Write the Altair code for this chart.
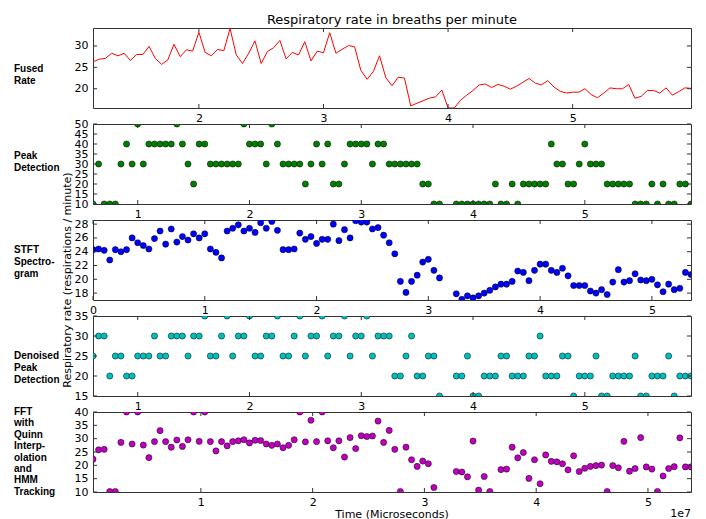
import altair as alt
import pandas as pd

W = 598
H = 80
STEP = 0.05  # sample spacing, units of 1e7 microseconds

# ---------------- data ----------------
fused_t0 = 1.15
fused = [26.3, 26.9, 27.1, 28.3, 27.7, 28.3, 26.6, 28.0, 28.0, 29.9,
         27.1, 25.7, 26.7, 30.4, 27.5, 29.1, 28.8, 33.2, 28.5, 27.7,
         29.2, 28.9, 34.1, 27.9, 25.9, 28.3, 31.2, 25.9, 28.7, 29.6,
         31.3, 27.0, 28.5, 27.9, 31.0, 26.5, 28.8, 28.4, 33.1, 28.3,
         29.2, 30.1, 29.8, 24.3, 22.2, 24.0, 27.7, 22.6, 20.7, 22.7,
         22.5, 16.0, 16.6, 17.2, 17.8, 18.1, 19.7, 15.5, 15.5, 17.3,
         18.5, 19.6, 20.9, 21.1, 20.3, 21.0, 20.6, 19.9, 20.6, 21.5,
         22.4, 21.3, 20.9, 21.9, 20.4, 19.4, 19.0, 19.2, 19.2, 20.0,
         18.6, 17.9, 19.0, 20.2, 20.0, 20.0, 21.0, 17.8, 18.2, 19.6,
         19.6, 19.0, 20.2, 18.5, 19.3, 20.2, 20.1]

peak_t0 = 0.60
peak = [10, 30, 10, 10, 10, 30, 40, 30, 50, 30,
        40, 40, 40, 40, 40, 50, 40, 30, 20, 40,
        40, 30, 30, 30, 30, 30, 30, 50, 40, 40,
        40, 30, 50, 40, 30, 30, 30, 30, 20, 30,
        40, 30, 40, 20, 20, 30, 40, 40, 40, 40,
        30, 40, 40, 30, 30, 30, 30, 30, 30, 20,
        20, 10, 10, None, None, 10, 10, 10, 10, 10,
        10, 10, 20, 10, 10, 20, 10, 20, 20, 20,
        20, 20, 40, 30, 30, 20, 20, 30, 40, 30,
        30, 30, 20, 20, 20, 20, 20, 10, 10, 10,
        20, 10, 20, 10, 10, 20, 20, 10]

stft_t0 = 0.0
stft = [24.3, 24.4, 24.2, 22.8, 24.3, 24.0, 24.3, 26.0, 25.3, 24.9,
        24.4, 25.9, 27.0, 25.1, 27.3, 25.4, 26.2, 25.7, 26.6, 26.0,
        26.6, 24.4, 23.9, 23.1, 27.0, 27.4, 27.9, 27.0, 27.4, 26.8,
        28.2, 27.4, 28.4, 27.1, 24.3, 24.3, 24.4, 26.7, 25.8, 26.2,
        25.2, 25.8, 25.8, 28.0, 25.6, 27.2, 26.0, 28.5, 28.3, 28.3,
        27.3, 27.5, 26.4, 25.3, 23.7, 19.7, 18.1, 19.7, 20.6, 22.5,
        22.9, 21.3, 20.2, None, None, 17.9, 17.1, 17.6, 17.3, 17.6,
        18.0, 18.4, 18.9, 19.3, 19.3, 19.7, 21.2, 21.0, 19.8, 21.3,
        22.2, 22.2, 21.3, 21.0, 21.6, 20.5, 19.1, 19.1, 19.1, 18.3,
        18.0, 18.5, 17.8, 19.6, 21.4, 19.6, 19.8, 20.8, 19.9, 19.8,
        20.0, 19.2, 18.2, 19.3, 18.5, 18.7, 21.0, 20.7]

denoised_t0 = 0.60
denoised = [25, 30, 30, 20, 25, 25, 20, 20, 25, 25,
            25, 30, 25, 25, 30, 30, 30, 25, 30, 30,
            35, 25, 25, 30, 35, 25, 30, 30, 35, 25,
            25, 30, 30, 35, 25, 25, 30, 35, 25, 30,
            30, 35, 25, 30, 30, 35, 25, 30, 30, 35,
            25, 30, 30, 30, 20, 20, 25, 30, 20, 20,
            25, 25, 15, None, None, 20, 20, 25, 15, 15,
            20, 20, 20, 25, 25, 20, 20, 20, 25, 25,
            30, 20, 20, 20, 25, 25, 15, 20, 20, 20,
            25, 15, 15, 20, 20, 20, 20, 25, 15, 15,
            20, 20, 20, 25, 15, 20, 20, 20]

fft_t0 = 0.035
fft = [22.3, 25.8, 26.0, 10.2, 10.2, 28.6, 40.0, 28.0, 40.0, 27.6,
       22.9, 28.9, 33.0, 28.9, 26.8, 29.5, 27.1, 29.6, 40.0, 29.0,
       40.0, 28.9, 25.4, 28.9, 27.3, 28.9, 29.2, 29.6, 28.4, 29.4,
       29.3, 28.0, 27.5, 28.0, 26.6, 27.5, 29.6, 40.0, 28.8, 36.9,
       28.9, 40.0, 29.2, 26.6, 29.2, 23.1, 30.4, 26.3, 31.1, 30.8,
       31.0, 36.6, 28.6, 33.1, 26.0, 10.2, 26.8, 22.1, 19.6, 21.6,
       20.6, 11.7, None, None, None, 17.7, 17.5, 15.7, 29.1, 10.7,
       15.8, 10.2, None, 18.4, 18.6, 26.8, 22.8, 24.8, 15.1, 22.1,
       13.1, 23.9, 21.5, 21.3, 20.6, 18.3, 23.6, 17.7, 18.9, 19.6,
       19.9, 20.1, 10.2, 19.9, 19.1, 29.0, 17.8, 18.8, 30.4, 19.4,
       18.6, 10.2, 16.0, 18.8, 19.5, 30.3, 19.4, 19.4]

labels = {
    "fused": ["Fused", "Rate"],
    "peak": ["Peak", "Detection"],
    "stft": ["STFT", "Spectro-", "gram"],
    "denoised": ["Denoised", "Peak", "Detection"],
    "fft": ["FFT", "with", "Quinn", "Interp-", "olation", "and", "HMM", "Tracking"],
}

TITLE = "Respiratory rate in breaths per minute"
YTITLE = "Respiratory rate (respirations / minute)"
XTITLE = "Time (Microseconds)"
OFFSET = "1e7"

FRAME = "#333333"
one = pd.DataFrame({"a": [0]})


def series(t0, vals):
    rows = [{"t": round(t0 + i * STEP, 4), "v": v}
            for i, v in enumerate(vals) if v is not None]
    return pd.DataFrame(rows)


def panel(df, kind, color, xdom, ydom, xticks, yticks, label, label_y, lh=12):
    xs = alt.Scale(domain=xdom, nice=False, zero=False)
    ys = alt.Scale(domain=ydom, nice=False, zero=False)
    xaxis = alt.Axis(values=xticks, format="d", title=None, grid=False,
                     ticks=False, tickSize=0, domain=False, labelFlush=False,
                     labelOverlap=False, labelPadding=4)
    yaxis = alt.Axis(values=yticks, format="d", title=None, grid=False,
                     ticks=False, tickSize=0, domain=False, labelFlush=False,
                     labelOverlap=False, labelPadding=5)
    enc = dict(x=alt.X("t:Q", scale=xs, axis=xaxis),
               y=alt.Y("v:Q", scale=ys, axis=yaxis))
    if kind == "line":
        main = alt.Chart(df).mark_line(color=color, strokeWidth=1, clip=True).encode(**enc)
    else:
        main = alt.Chart(df).mark_point(filled=True, fill=color, stroke="black",
                                        strokeWidth=0.5, size=38, opacity=1,
                                        clip=True).encode(**enc)
    layers = [main]
    xt = pd.DataFrame({"t": xticks})
    yt = pd.DataFrame({"v": yticks})
    for y1, y2 in [(H, H - 4), (0, 4)]:
        layers.append(alt.Chart(xt).mark_rule(color=FRAME, strokeWidth=1).encode(
            x=alt.X("t:Q", scale=xs, axis=xaxis), y=alt.value(y1), y2=alt.value(y2)))
    for x1, x2 in [(0, 4), (W, W - 4)]:
        layers.append(alt.Chart(yt).mark_rule(color=FRAME, strokeWidth=1).encode(
            y=alt.Y("v:Q", scale=ys, axis=yaxis), x=alt.value(x1), x2=alt.value(x2)))
    layers.append(alt.Chart(one).mark_text(
        text=label, align="left", baseline="middle", font="Liberation Sans",
        fontWeight="bold", fontSize=10, lineHeight=lh, color="black").encode(
        x=alt.value(-79), y=alt.value(label_y)))
    return layers


def dom(t0, vals):
    return [t0, round(t0 + (len(vals) - 1) * STEP, 4)]


l1 = panel(series(fused_t0, fused), "line", "#ff0000", dom(fused_t0, fused),
           [15.5, 34.2], [2, 3, 4, 5], [20, 25, 30], labels["fused"], 41)
l1.append(alt.Chart(one).mark_text(text=TITLE, font="DejaVu Sans", fontSize=13,
                                   align="center", baseline="alphabetic",
                                   color="black").encode(
    x=alt.value(W / 2), y=alt.value(-4)))

l2 = panel(series(peak_t0, peak), "point", "#008000", dom(peak_t0, peak),
           [10, 50], [1, 2, 3, 4, 5], [10, 15, 20, 25, 30, 35, 40, 45, 50],
           labels["peak"], 32)

l3 = panel(series(stft_t0, stft), "point", "#0000ff", dom(stft_t0, stft),
           [17.0, 28.6], [0, 1, 2, 3, 4, 5], [18, 20, 22, 24, 26, 28],
           labels["stft"], 30)
l3.append(alt.Chart(one).mark_text(text=YTITLE, font="DejaVu Sans", fontSize=11,
                                   angle=270, align="center", baseline="middle",
                                   color="black").encode(
    x=alt.value(-25), y=alt.value(60)))

l4 = panel(series(denoised_t0, denoised), "point", "#00bfbf",
           dom(denoised_t0, denoised), [15, 35], [1, 2, 3, 4, 5],
           [15, 20, 25, 30, 35], labels["denoised"], 40)

l5 = panel(series(fft_t0, fft), "point", "#bf00bf", dom(fft_t0, fft),
           [10, 40], [1, 2, 3, 4, 5], [10, 15, 20, 25, 30, 35, 40],
           labels["fft"], 0, lh=11.4)
l5.append(alt.Chart(one).mark_text(text=XTITLE, font="DejaVu Sans", fontSize=11,
                                   align="center", baseline="middle",
                                   color="black").encode(
    x=alt.value(W / 2), y=alt.value(103)))
l5.append(alt.Chart(one).mark_text(text=OFFSET, font="DejaVu Sans", fontSize=11,
                                   align="right", baseline="middle",
                                   color="black").encode(
    x=alt.value(W), y=alt.value(102)))

panels = [alt.layer(*l).properties(width=W, height=H) for l in [l1, l2, l3, l4, l5]]

chart = alt.vconcat(*panels, spacing=16, bounds="flush").properties(
    padding={"left": 5, "top": 5, "right": 5, "bottom": 5}
).configure_view(stroke=FRAME, strokeWidth=1).configure_axis(
    labelFont="DejaVu Sans", labelFontSize=11, labelColor="black"
)

chart.save("out.html", embed_options={"renderer": "svg", "actions": False})
